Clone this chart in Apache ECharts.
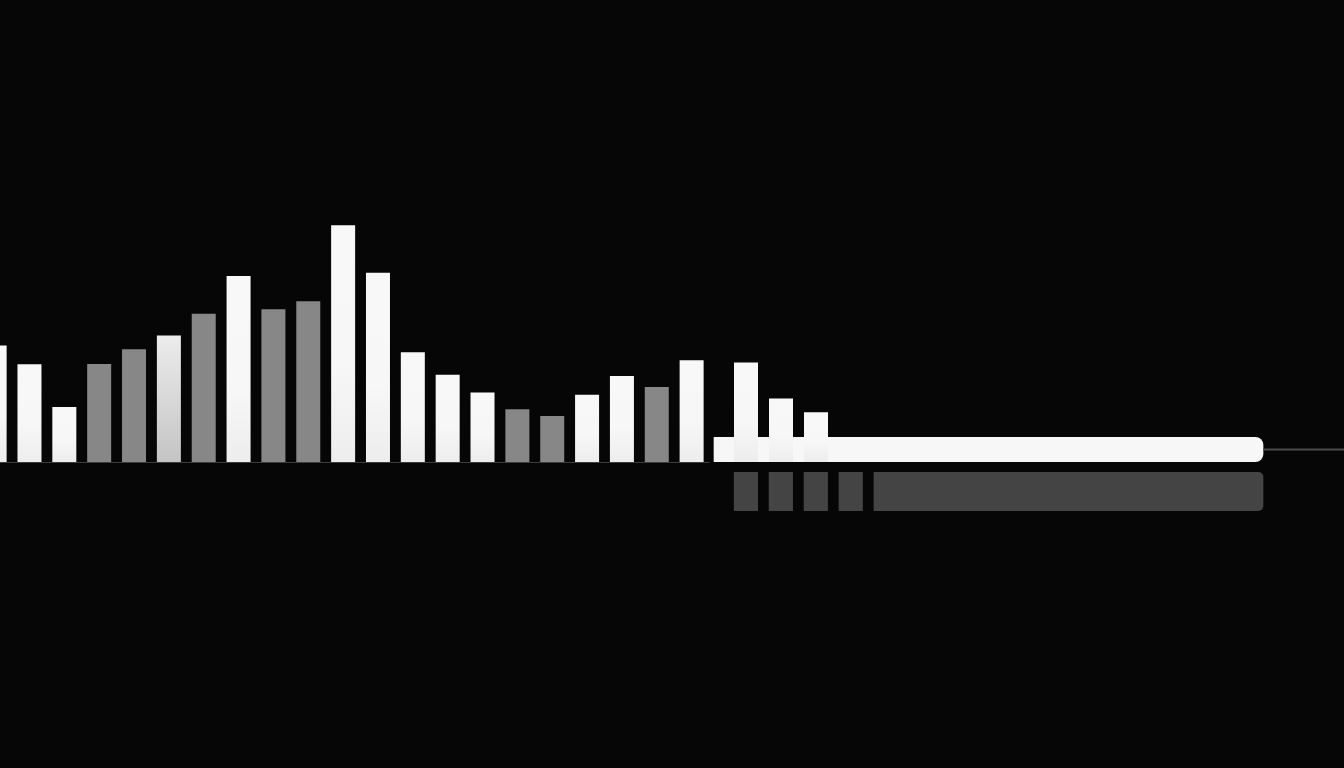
<!DOCTYPE html>
<html><head><meta charset="utf-8">
<script src="https://cdn.jsdelivr.net/npm/echarts/dist/echarts.min.js"></script>
<style>html,body{margin:0;padding:0;background:#060606;}#c{width:1344px;height:768px;}</style>
</head><body><div id="c"></div>
<script>
// ---- data ----
const categories = ['A01','A02','A03','A04','A05','A06','A07','A08','A09','A10','A11','A12','A13','A14','A15','A16','A17','A18','A19','A20','A21'];
const values = [38.8, 32.6, 18.3, 32.7, 37.6, 42.2, 49.4, 62.0, 50.9, 53.6, 78.9, 63.1, 36.6, 29.1, 23.2, 17.6, 15.3, 22.4, 28.7, 25.0, 33.9];
const tones = ['w','w','w','g','g','l','g','w','g','g','w','w','w','w','w','g','g','w','w','g','w'];
const lateCategories = ['B01','B02','B03'];
const lateValues = [33.2, 21.2, 16.6];
const bandRows = ['upper','lower'];
const upperBand = [[53.1, 94.0, 0]];
const lowerSegments = [[54.6, 56.4, 1], [57.2, 59.0, 1], [59.8, 61.6, 1], [62.4, 64.2, 1], [65.0, 94.0, 1]];
const tailLine = [[94.0, 'upper'], [100, 'upper']];

// ---- styles ----
const G = echarts.graphic.LinearGradient;
const toneColor = {
  w: new G(0, 0, 0, 1, [{offset: 0, color: '#f8f8f8'}, {offset: 0.6, color: '#f7f7f7'}, {offset: 1, color: '#ededed'}]),
  g: '#878787',
  l: new G(0, 0, 0, 1, [{offset: 0, color: '#ececec'}, {offset: 0.5, color: '#d8d8d8'}, {offset: 1, color: '#c4c4c4'}])
};

function bandRenderer(height, color, radius) {
  return function (params, api) {
    const row = api.value(2);
    const s = api.coord([api.value(0), row]);
    const e = api.coord([api.value(1), row]);
    const isLast = params.dataIndex === params.dataInsideLength - 1;
    const r = isLast ? [0, radius, radius, 0] : 0;
    return {
      type: 'rect',
      shape: {x: s[0], y: s[1] - height / 2, width: e[0] - s[0], height: height, r: r},
      style: {fill: color}
    };
  };
}

const chart = echarts.init(document.getElementById('c'), null, {renderer: 'canvas'});
chart.setOption({
  backgroundColor: '#060606',
  animation: false,
  grid: [
    {left: -22.8, width: 731.85, top: 162, height: 300, outerBoundsMode: 'none', containLabel: false},
    {left: 728.5, width: 105, top: 162, height: 300, outerBoundsMode: 'none'},
    {left: 0, right: 0, top: 428.5, height: 84, outerBoundsMode: 'none'}
  ],
  xAxis: [
    {gridIndex: 0, type: 'category', data: categories,
     axisLine: {show: true, lineStyle: {color: '#3c3c3c', width: 1}},
     axisTick: {show: false}, axisLabel: {show: false}, splitLine: {show: false}},
    {gridIndex: 1, type: 'category', data: lateCategories, show: false},
    {gridIndex: 2, type: 'value', min: 0, max: 100, show: false}
  ],
  yAxis: [
    {gridIndex: 0, type: 'value', min: 0, max: 100, show: false},
    {gridIndex: 1, type: 'value', min: 0, max: 100, show: false},
    {gridIndex: 2, type: 'category', data: bandRows, inverse: true, show: false}
  ],
  series: [
    {type: 'custom', xAxisIndex: 2, yAxisIndex: 2, z: 1,
     encode: {x: [0, 1], y: 2}, data: upperBand,
     renderItem: bandRenderer(25, '#f7f7f7', 8)},
    {type: 'custom', xAxisIndex: 2, yAxisIndex: 2, z: 1,
     encode: {x: [0, 1], y: 2}, data: lowerSegments,
     renderItem: bandRenderer(39, '#444444', 5)},
    {type: 'line', xAxisIndex: 2, yAxisIndex: 2, z: 1, data: tailLine,
     symbol: 'none', lineStyle: {color: '#4a4a4a', width: 2}},
    {type: 'bar', xAxisIndex: 0, yAxisIndex: 0, z: 3, data: values, barWidth: 24,
     itemStyle: {color: p => toneColor[tones[p.dataIndex]]}},
    {type: 'bar', xAxisIndex: 1, yAxisIndex: 1, z: 3, data: lateValues, barWidth: 24,
     itemStyle: {color: toneColor.w}}
  ]
});
</script>
</body></html>
